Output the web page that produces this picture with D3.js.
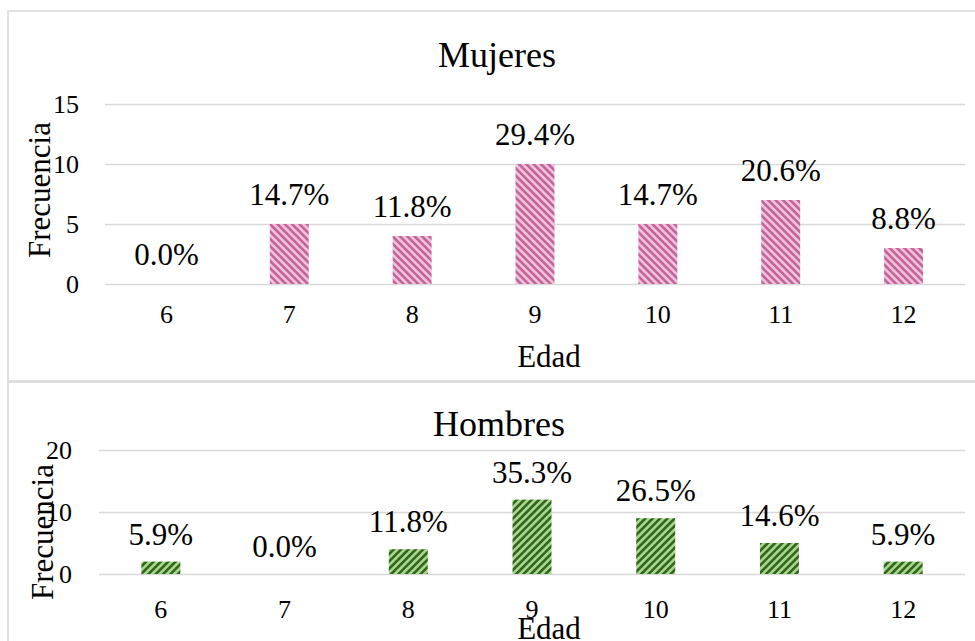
<!DOCTYPE html>
<html>
<head>
<meta charset="utf-8">
<script src="https://cdn.jsdelivr.net/npm/d3@7"></script>
<style>
  html, body { margin: 0; padding: 0; background: #fff; }
  svg { display: block; }
  svg text { font-family: "Liberation Serif", "Times New Roman", serif !important; fill: #000; }
</style>
</head>
<body>
<svg id="chart" width="975" height="641"></svg>
<script>
// Age groups (years)
const edades = ["6", "7", "8", "9", "10", "11", "12"];

// Girls: frequency per age and percentage labels
const mujeresFrecuencia = [0, 5, 4, 10, 5, 7, 3];
const mujeresEtiquetas = ["0.0%", "14.7%", "11.8%", "29.4%", "14.7%", "20.6%", "8.8%"];
const mujeresTicks = [0, 5, 10, 15];

// Boys: frequency per age and percentage labels
const hombresFrecuencia = [2, 0, 4, 12, 9, 5, 2];
const hombresEtiquetas = ["5.9%", "0.0%", "11.8%", "35.3%", "26.5%", "14.6%", "5.9%"];
const hombresTicks = [0, 10, 20];

const svg = d3.select("#chart");
const gridColor = "#d9d9d9";
const serif = "Liberation Serif";

// Diagonal hatch fills
const defs = svg.append("defs");
function hatch(id, light, dark, angle) {
  const s = 5.2;
  const p = defs.append("pattern")
    .attr("id", id)
    .attr("patternUnits", "userSpaceOnUse")
    .attr("width", s).attr("height", s)
    .attr("patternTransform", `rotate(${angle})`);
  p.append("rect").attr("width", s).attr("height", s).attr("fill", light);
  p.append("rect").attr("width", s / 2).attr("height", s).attr("fill", dark);
}
hatch("rayado-rosa", "#efc2db", "#c5649a", -45);
hatch("rayado-verde", "#a6d987", "#356424", 45);

function panel(cfg) {
  const g = svg.append("g").attr("font-family", serif);

  // panel frame
  g.append("rect")
    .attr("x", cfg.box[0]).attr("y", cfg.box[1])
    .attr("width", cfg.box[2]).attr("height", cfg.box[3])
    .attr("fill", "none").attr("stroke", gridColor).attr("stroke-width", 1.5);

  const x = d3.scaleBand()
    .domain(edades)
    .range([cfg.left, cfg.right])
    .paddingInner(cfg.pad).paddingOuter(cfg.pad / 2);

  const y = d3.scaleLinear()
    .domain([0, d3.max(cfg.ticks)])
    .range([cfg.bottom, cfg.top]);

  // horizontal gridlines
  const grid = g.append("g")
    .attr("transform", `translate(${cfg.left},0)`)
    .call(d3.axisLeft(y).tickValues(cfg.ticks).tickSize(-(cfg.right - cfg.left)).tickFormat(""));
  grid.select(".domain").remove();
  grid.selectAll("line").attr("stroke", gridColor).attr("stroke-width", 1.5);

  // y tick labels
  const ya = g.append("g")
    .attr("transform", `translate(${cfg.yLabelX},0)`)
    .call(d3.axisLeft(y).tickValues(cfg.ticks).tickSize(0).tickPadding(0))
    .attr("font-family", serif).attr("font-size", 26);
  ya.select(".domain").remove();
  ya.selectAll("text")
    .attr("fill", "#000")
    .attr("dy", "0.33em");

  // bars
  g.selectAll("rect.bar")
    .data(cfg.values)
    .join("rect")
    .attr("class", "bar")
    .attr("x", (d, i) => x(edades[i]))
    .attr("width", x.bandwidth())
    .attr("y", d => y(d))
    .attr("height", d => y(0) - y(d))
    .attr("fill", `url(#${cfg.pattern})`);

  // percentage labels
  g.selectAll("text.valor")
    .data(cfg.values)
    .join("text")
    .attr("class", "valor")
    .attr("x", (d, i) => x(edades[i]) + x.bandwidth() / 2)
    .attr("y", d => y(d) - cfg.labelGap)
    .attr("text-anchor", "middle")
    .attr("font-family", serif)
    .attr("font-size", 31)
    .text((d, i) => cfg.labels[i]);

  // x category labels
  const xa = g.append("g")
    .attr("transform", `translate(0,${cfg.bottom})`)
    .call(d3.axisBottom(x).tickSize(0))
    .attr("font-family", serif).attr("font-size", 26);
  xa.select(".domain").remove();
  xa.selectAll("text")
    .attr("fill", "#000")
    .attr("y", cfg.xLabelOffset).attr("dy", 0);

  // titles
  g.append("text")
    .attr("x", cfg.titleX).attr("y", cfg.titleY)
    .attr("text-anchor", "middle")
    .attr("font-family", serif).attr("font-size", 36)
    .text(cfg.title);

  g.append("text")
    .attr("x", 549).attr("y", cfg.xTitleY)
    .attr("text-anchor", "middle")
    .attr("font-family", serif).attr("font-size", 31)
    .text("Edad");

  g.append("text")
    .attr("transform", `translate(${cfg.yTitleX},${cfg.yTitleY}) rotate(-90)`)
    .attr("text-anchor", "middle")
    .attr("font-family", serif).attr("font-size", 31)
    .text("Frecuencia");
}

panel({
  box: [8, 11, 990, 370],
  left: 105, right: 965, top: 104, bottom: 284, pad: 0.683,
  ticks: mujeresTicks, values: mujeresFrecuencia, labels: mujeresEtiquetas,
  pattern: "rayado-rosa", labelGap: 19, xLabelOffset: 39, yLabelX: 79,
  title: "Mujeres", titleX: 497, titleY: 67, xTitleY: 367,
  yTitleX: 50, yTitleY: 190
});

panel({
  box: [8, 382, 990, 280],
  left: 99, right: 965, top: 450, bottom: 574, pad: 0.685,
  ticks: hombresTicks, values: hombresFrecuencia, labels: hombresEtiquetas,
  pattern: "rayado-verde", labelGap: 17, xLabelOffset: 44, yLabelX: 72,
  title: "Hombres", titleX: 499, titleY: 436, xTitleY: 639,
  yTitleX: 53, yTitleY: 532
});
</script>
</body>
</html>
